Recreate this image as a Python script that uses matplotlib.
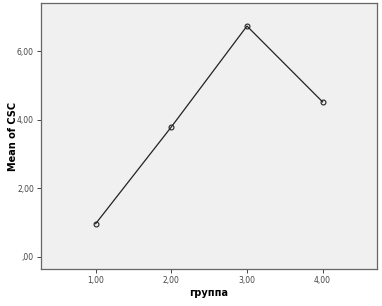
import matplotlib
matplotlib.use("Agg")
import matplotlib.pyplot as plt

groups = [1.0, 2.0, 3.0, 4.0]
means = [0.97, 3.79, 6.73, 4.52]
xtick_vals = [1.0, 2.0, 3.0, 4.0]
xtick_labels = ["1,00", "2,00", "3,00", "4,00"]
ytick_vals = [0.0, 2.0, 4.0, 6.0]
ytick_labels = [",00", "2,00", "4,00", "6,00"]

plt.rcParams['font.family'] = ['DejaVu Sans']
fig = plt.figure(figsize=(3.82, 3.06), dpi=100)
ax = fig.add_axes([0.107, 0.121, 0.880, 0.869])
ax.set_facecolor("#f0f0f0")
ax.plot(groups, means, color="#222222", linewidth=0.9, marker="o", markersize=3.5,
        markerfacecolor="none", markeredgecolor="#222222", markeredgewidth=0.8)
ax.set_xlim(0.275, 4.72)
ax.set_ylim(-0.35, 7.4)
ax.set_xticks(xtick_vals)
ax.set_xticklabels(xtick_labels)
ax.set_yticks(ytick_vals)
ax.set_yticklabels(ytick_labels)
ax.tick_params(axis="both", labelsize=5.5, colors="#444444", length=3, width=0.7, direction="out", pad=2)
for s in ax.spines.values():
    s.set_color("#666666")
    s.set_linewidth(0.9)
ax.set_xlabel("группа", fontsize=7, fontweight="bold")
ax.set_ylabel("Mean of CSC", fontsize=7, fontweight="bold")
ax.yaxis.set_label_coords(-0.083, 0.5)
ax.xaxis.set_label_coords(0.5, -0.09)
ax.xaxis.label.set_va("center")
ax.yaxis.label.set_va("center")
fig.savefig("out.png", dpi=100, facecolor="white")
